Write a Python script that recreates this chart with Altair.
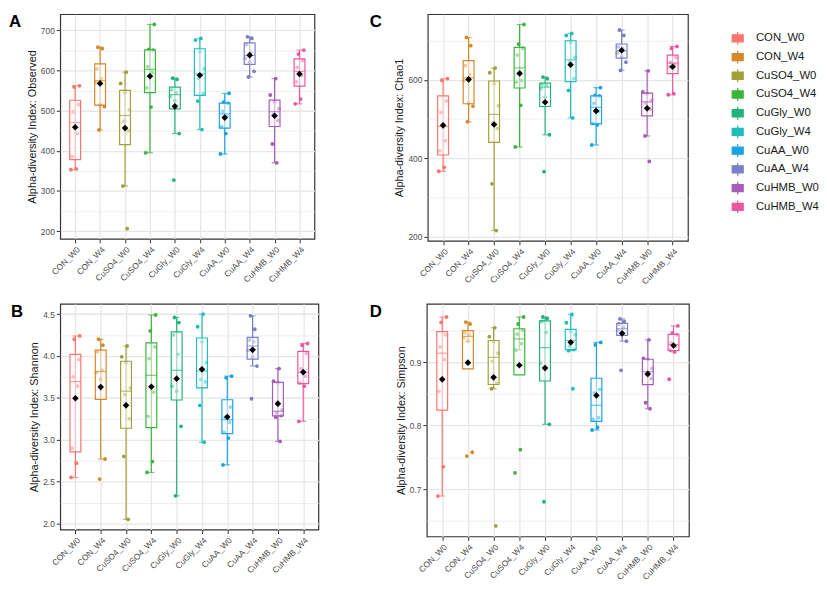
import altair as alt
import numpy as np
import pandas as pd

GROUPS = ["CON_W0", "CON_W4", "CuSO4_W0", "CuSO4_W4", "CuGly_W0",
          "CuGly_W4", "CuAA_W0", "CuAA_W4", "CuHMB_W0", "CuHMB_W4"]
COLORS = ["#F8766D", "#D4882A", "#A0A038", "#3CB43C", "#20B37C",
          "#20BDBD", "#1AA3E2", "#7A80C8", "#A65CB8", "#E9589E"]

OBSERVED = {
    "CON_W0": [353, 355, 386, 443, 497, 515, 559, 562],
    "CON_W4": [452, 510, 515, 570, 580, 604, 655, 658],
    "CuSO4_W0": [206, 312, 450, 474, 502, 545, 568, 596],
    "CuSO4_W4": [395, 509, 557, 596, 610, 651, 653, 715],
    "CuGly_W0": [327, 443, 525, 535, 545, 552, 578, 581],
    "CuGly_W4": [453, 524, 543, 580, 604, 647, 676, 680],
    "CuAA_W0": [392, 443, 461, 486, 498, 518, 521, 543],
    "CuAA_W4": [584, 598, 621, 630, 645, 665, 680, 684],
    "CuHMB_W0": [370, 417, 475, 490, 505, 522, 539, 580],
    "CuHMB_W4": [517, 529, 572, 588, 608, 625, 641, 651],
}
SHANNON = {
    "CON_W0": [2.55, 2.72, 2.90, 3.64, 3.75, 3.96, 4.20, 4.24],
    "CON_W4": [2.53, 2.77, 3.72, 3.80, 3.83, 4.05, 4.13, 4.20],
    "CuSO4_W0": [2.05, 2.80, 3.25, 3.54, 3.62, 3.92, 3.99, 4.12],
    "CuSO4_W4": [2.61, 2.74, 3.28, 3.57, 3.97, 4.11, 4.30, 4.49],
    "CuGly_W0": [2.33, 3.16, 3.58, 3.64, 4.02, 4.25, 4.40, 4.46],
    "CuGly_W4": [2.97, 3.41, 3.69, 3.72, 3.92, 4.17, 4.35, 4.50],
    "CuAA_W0": [2.70, 3.02, 3.09, 3.21, 3.27, 3.39, 3.74, 3.76],
    "CuAA_W4": [3.49, 3.88, 3.99, 4.07, 4.17, 4.19, 4.32, 4.48],
    "CuHMB_W0": [2.98, 3.27, 3.29, 3.32, 3.36, 3.68, 3.70, 3.85],
    "CuHMB_W4": [3.22, 3.64, 3.68, 3.76, 3.85, 4.03, 4.13, 4.15],
}
CHAO1 = {
    "CON_W0": [367, 377, 419, 445, 517, 546, 598, 603],
    "CON_W4": [493, 533, 541, 598, 613, 636, 687, 708],
    "CuSO4_W0": [216, 335, 476, 490, 534, 590, 618, 630],
    "CuSO4_W4": [429, 535, 594, 598, 663, 680, 691, 741],
    "CuGly_W0": [366, 460, 556, 577, 586, 588, 603, 607],
    "CuGly_W4": [503, 573, 603, 645, 657, 695, 713, 718],
    "CuAA_W0": [434, 485, 489, 520, 540, 559, 560, 580],
    "CuAA_W4": [624, 645, 659, 668, 680, 684, 713, 727],
    "CuHMB_W0": [392, 457, 525, 540, 548, 565, 569, 623],
    "CuHMB_W4": [562, 565, 633, 640, 645, 657, 680, 685],
}
SIMPSON = {
    "CON_W0": [0.689, 0.735, 0.854, 0.904, 0.924, 0.943, 0.9625, 0.971],
    "CON_W4": [0.752, 0.758, 0.933, 0.938, 0.943, 0.946, 0.960, 0.963],
    "CuSO4_W0": [0.642, 0.858, 0.867, 0.901, 0.914, 0.932, 0.940, 0.954],
    "CuSO4_W4": [0.7255, 0.762, 0.919, 0.929, 0.944, 0.950, 0.960, 0.971],
    "CuGly_W0": [0.680, 0.802, 0.893, 0.8985, 0.947, 0.9635, 0.969, 0.971],
    "CuGly_W4": [0.858, 0.918, 0.920, 0.925, 0.943, 0.948, 0.962, 0.975],
    "CuAA_W0": [0.793, 0.797, 0.810, 0.8125, 0.8515, 0.857, 0.927, 0.931],
    "CuAA_W4": [0.887, 0.933, 0.945, 0.950, 0.955, 0.960, 0.964, 0.968],
    "CuHMB_W0": [0.8265, 0.836, 0.874, 0.880, 0.890, 0.904, 0.906, 0.935],
    "CuHMB_W4": [0.873, 0.916, 0.919, 0.925, 0.930, 0.943, 0.946, 0.957],
}

OBS_MAJOR = [200, 300, 400, 500, 600, 700]
OBS_MINOR = [250, 350, 450, 550, 650]
SHA_MAJOR = [2.0, 2.5, 3.0, 3.5, 4.0, 4.5]
SHA_MINOR = [2.25, 2.75, 3.25, 3.75, 4.25]
CHA_MAJOR = [200, 400, 600]
CHA_MINOR = [300, 500, 700]
SIM_MAJOR = [0.7, 0.8, 0.9]
SIM_MINOR = [0.65, 0.75, 0.85, 0.95]

FONT = "Liberation Sans"
GRID = "#E6E6E6"

LEGEND_PATH = ("M-0.85,-0.55L0.85,-0.55L0.85,0.55L-0.85,0.55Z"
               "M0,-1L0,-0.55M0,0.55L0,1M-0.85,0L0.85,0"
               "M-0.14,-0.14L0.14,-0.14L0.14,0.14L-0.14,0.14Z")


def panel(letter, title, data, major, minor, w, h, letter_x, fmt):
    rows, srows = [], []
    for gi, g in enumerate(GROUPS):
        arr = np.array(data[g], dtype=float)
        for i, v in enumerate(arr):
            rows.append({"group": g, "gi": gi, "i": i, "value": v})
        q1, med, q3 = np.percentile(arr, [25, 50, 75])
        iqr = q3 - q1
        lo = arr[arr >= q1 - 1.5 * iqr].min()
        hi = arr[arr <= q3 + 1.5 * iqr].max()
        srows.append({"group": g, "q1": q1, "med": med, "q3": q3,
                      "lo": lo, "hi": hi, "mean": arr.mean()})
    pts = pd.DataFrame(rows)
    stats = pd.DataFrame(srows)
    vmin, vmax = pts["value"].min(), pts["value"].max()
    pad = 0.05 * (vmax - vmin)
    yscale = alt.Scale(domain=[vmin - pad, vmax + pad], nice=False, zero=False)
    yaxis = alt.Axis(title=title, values=major, grid=True, format=fmt,
                     gridColor=GRID, gridWidth=1.3)
    xenc = alt.X("group:N", sort=GROUPS,
                 scale=alt.Scale(type="point", padding=0.6, domain=GROUPS),
                 axis=alt.Axis(title=None, labelAngle=-45, grid=True,
                               gridColor=GRID, gridWidth=1.3))
    cscale = alt.Scale(domain=GROUPS, range=COLORS)

    def Y(f):
        return alt.Y(f, scale=yscale, axis=yaxis)

    def C(legend=None):
        if legend is None:
            return alt.Color("group:N", scale=cscale, legend=None)
        return alt.Color("group:N", scale=cscale, legend=legend)

    legend = alt.Legend(title=" ", titleFontSize=12, titlePadding=5,
                        symbolType=LEGEND_PATH, symbolSize=170,
                        symbolStrokeWidth=1.3, symbolOpacity=1,
                        labelFontSize=11.5, labelFont=FONT,
                        labelColor="#1A1A1A", labelOffset=11, rowPadding=0,
                        orient="right", offset=41, padding=0)

    base_s = alt.Chart(stats)
    err = base_s.mark_rule(strokeWidth=1.2).encode(
        x=xenc, y=Y("lo:Q"), y2="hi:Q", color=C(legend))
    cap_lo = base_s.mark_tick(size=6, thickness=1.2).encode(
        x=xenc, y=Y("lo:Q"), color=C())
    cap_hi = base_s.mark_tick(size=6, thickness=1.2).encode(
        x=xenc, y=Y("hi:Q"), color=C())
    dots = alt.Chart(pts).transform_calculate(
        jit="(((datum.i * 5 + datum.gi * 3) % 9) - 4) * 1.1"
    ).mark_circle(size=15, opacity=1).encode(
        x=xenc, xOffset=alt.XOffset("jit:Q", scale=None), y=Y("value:Q"),
        color=C())
    box = base_s.mark_bar(size=11, fill="white", fillOpacity=0.55,
                          strokeWidth=1.2).encode(
        x=xenc, y=Y("q1:Q"), y2="q3:Q",
        stroke=alt.Stroke("group:N", scale=cscale, legend=None))
    median = base_s.mark_tick(size=11, thickness=1.2).encode(
        x=xenc, y=Y("med:Q"), color=C())
    mean = base_s.mark_point(shape="diamond", filled=True, color="black",
                             size=45, opacity=1).encode(x=xenc, y=Y("mean:Q"))
    lab = alt.Chart(pd.DataFrame({"t": [letter]})).mark_text(
        align="left", baseline="top", fontSize=17, fontWeight="bold",
        font=FONT, color="black").encode(
        text="t:N", x=alt.value(letter_x), y=alt.value(0))
    main = alt.layer(err, cap_lo, cap_hi, dots, box, median, mean, lab)
    minor_layer = alt.Chart(pts).mark_point(opacity=0).encode(
        y=alt.Y("value:Q", scale=yscale,
                axis=alt.Axis(values=minor, grid=True, gridColor=GRID,
                              gridWidth=0.7, labels=False, ticks=False,
                              domain=False, title=None, orient="right")))
    return alt.layer(minor_layer, main).resolve_axis(y="independent").properties(
        width=w, height=h)


pA = panel("A", "Alpha-diversity Index: Observed", OBSERVED, OBS_MAJOR, OBS_MINOR,
           258, 228, -52, "d")
pC = panel("C", "Alpha-diversity Index: Chao1", CHAO1, CHA_MAJOR, CHA_MINOR,
           264, 230, -59, "d")
pB = panel("B", "Alpha-diversity Index: Shannon", SHANNON, SHA_MAJOR, SHA_MINOR,
           262, 229, -50, ".1f")
pD = panel("D", "Alpha-diversity Index: Simpson", SIMPSON, SIM_MAJOR, SIM_MINOR,
           266, 236, -58, ".1f")

row1 = alt.hconcat(pA, pC, spacing=54)
row2 = alt.hconcat(pB, pD, spacing=50)

chart = alt.vconcat(row1, row2, spacing=15).properties(
    padding=0, background="white"
).configure_view(
    stroke="#333333", strokeWidth=1.2
).configure_axis(
    labelFont=FONT, labelFontSize=8.5, labelColor="#4D4D4D",
    tickColor="#333333", tickSize=4, tickWidth=1, domain=False,
    labelPadding=2, titleFont=FONT, titleFontSize=11,
    titleFontWeight="normal", titleColor="#1A1A1A", titlePadding=3
)

chart.save("out.html", embed_options={"renderer": "svg", "actions": False})
